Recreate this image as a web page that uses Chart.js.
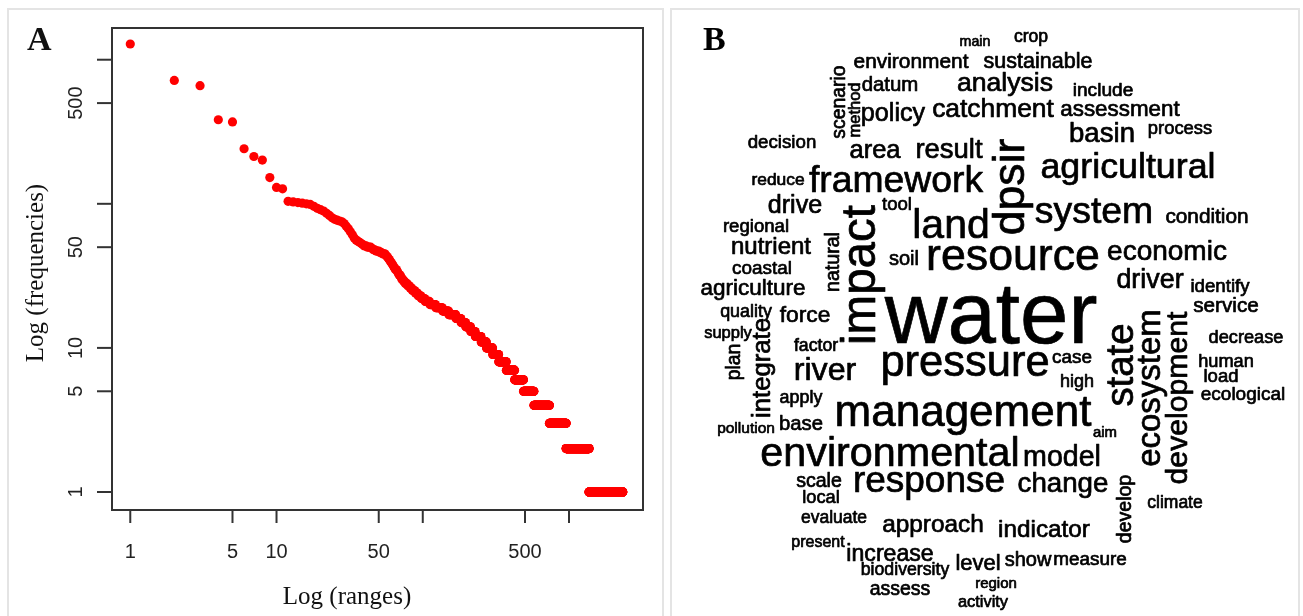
<!DOCTYPE html>
<html>
<head>
<meta charset="utf-8">
<script src="https://cdn.jsdelivr.net/npm/chart.js@4"></script>
<style>
html, body { margin: 0; padding: 0; background: #fff; }
body { width: 1303px; height: 616px; position: relative; overflow: hidden; }
.panel { position: absolute; top: 8px; height: 700px; border: 2px solid #e4e4e4; box-sizing: border-box; }
#panelA { left: 7px; width: 657px; }
#panelB { left: 670px; width: 630px; }
canvas { position: absolute; top: 0; }
#rankChart { left: 0; }
#cloudChart { left: 671px; }
</style>
</head>
<body>
<div class="panel" id="panelA"></div>
<div class="panel" id="panelB"></div>
<canvas id="rankChart" width="665" height="616"></canvas>
<canvas id="cloudChart" width="632" height="616"></canvas>
<script>
// ---- panel A: rank / frequency (log-log) ----
// frequencies of the first 45 ranks, read one by one
var topRankFreqs = [1285, 718, 660, 383, 370, 241, 213, 201, 152, 130,
                    127, 104, 103, 102, 101, 100, 99, 96, 93, 91,
                    89, 86, 83, 80, 78, 77, 76, 75, 73, 70,
                    67, 64, 61, 58, 56, 55, 54, 53, 52, 51,
                    51, 50, 50, 50, 49];
// after that: how many words share each frequency
var tailFreqLevels = [48, 47, 46, 45, 44, 43, 42, 41, 40, 39, 38, 37, 36, 35, 34, 33, 32, 31, 30, 29,
                      28, 27, 26, 25, 24, 23, 22, 21, 20, 19, 18, 17, 16, 15, 14, 13, 12, 11, 10, 9,
                      8, 7, 6, 5, 4, 3, 2, 1];
var tailWordCounts = [2, 3, 2, 3, 1, 1, 1, 1, 1, 1, 1, 1, 1, 2, 1, 1, 2, 1, 2, 2,
                      3, 3, 3, 4, 4, 5, 6, 8, 11, 14, 14, 18, 14, 14, 16, 16, 22, 22, 28, 30,
                      42, 52, 64, 87, 159, 221, 415, 960];

var xTicks = [1, 5, 10, 50, 100, 500, 1000];
var xTickLabels = ["1", "5", "10", "50", "", "500", ""];
var yTicks = [1, 5, 10, 50, 100, 500, 1000];
var yTickLabels = ["1", "5", "10", "50", "", "500", ""];

// ---- panel B: word cloud ----
var words = ['main','crop','environment','sustainable','scenario','method','datum','analysis','include','policy',
  'catchment','assessment','basin','process','decision','area','result','dpsir','agricultural','reduce',
  'framework','drive','tool','land','system','condition','regional','impact','nutrient','natural',
  'soil','resource','economic','coastal','agriculture','driver','identify','quality','force','water',
  'service','supply','integrate','plan','factor','river','pressure','case','high','state',
  'ecosystem','development','decrease','human','load','ecological','apply','pollution','base','management',
  'aim','environmental','model','scale','response','change','local','develop','climate','evaluate',
  'approach','indicator','present','increase','level','show','measure','biodiversity','region','assess',
  'activity'];
var wordFreq = [210, 260, 309, 318, 287, 244, 301, 393, 282, 372,
  390, 331, 408, 272, 276, 377, 406, 659, 529, 257,
  551, 371, 275, 606, 552, 307, 275, 702, 354, 289,
  295, 660, 414, 279, 332, 397, 276, 264, 337, 1285,
  306, 244, 380, 287, 261, 476, 643, 279, 266, 567,
  487, 446, 269, 269, 273, 281, 264, 229, 300, 650,
  220, 610, 422, 289, 546, 409, 270, 288, 258, 258,
  360, 359, 236, 341, 325, 295, 279, 261, 222, 288,
  242];
// where the cloud layout put each word (layout units)
var layoutX = [975, 1031, 911, 1038, 845, 860, 890, 1005, 1103, 893,
  993, 1120, 1102, 1180, 782, 875, 949, 1024, 1128, 778,
  896, 795, 897, 951, 1094, 1207, 756, 875, 771, 839,
  904, 1013, 1167, 762, 753, 1150, 1220, 746, 805, 991,
  1226, 728, 770, 740, 816, 825, 965, 1072, 1077, 1133,
  1160, 1187, 1246, 1226, 1221, 1243, 801, 746, 801, 963,
  1105, 890, 1062, 819, 929, 1063, 821, 1131, 1175, 834,
  933, 1044, 818, 890, 978, 1028, 1090, 905, 996, 900,
  983];
var layoutY = [46, 42, 68, 68, 102, 110, 91, 91, 96, 121,
  117, 116, 142, 134, 148, 158, 158, 187, 178, 185,
  192, 213, 210, 238, 223, 223, 232, 275, 254, 262,
  265, 270, 260, 274, 295, 288, 292, 317, 322, 343,
  312, 338, 368, 362, 351, 380, 376, 363, 387, 365,
  388, 398, 343, 367, 382, 400, 403, 433, 430, 426,
  437, 466, 466, 487, 492, 492, 503, 509, 508, 523,
  532, 537, 547, 561, 570, 566, 565, 575, 588, 595,
  607];
var verticalWords = ['scenario','method','dpsir','impact','natural','integrate','plan','state','ecosystem','development','develop'];

var SANS = '"Liberation Sans", Arial, sans-serif';
var SERIF = '"Liberation Serif", "Times New Roman", serif';

var rankPoints = [];
topRankFreqs.forEach(function (f, i) { rankPoints.push({ x: i + 1, y: f }); });
var rank = topRankFreqs.length;
tailFreqLevels.forEach(function (f, i) {
  for (var k = 0; k < tailWordCounts[i]; k++) {
    rank++;
    rankPoints.push({ x: rank, y: f });
  }
});

// R style box, ticks and labels
var rAxes = {
  id: 'rAxes',
  afterDraw: function (chart) {
    var ctx = chart.ctx, a = chart.chartArea;
    var xs = chart.scales.x, ys = chart.scales.y;
    ctx.save();
    ctx.strokeStyle = '#333';
    ctx.lineWidth = 2;
    ctx.strokeRect(a.left, a.top, a.right - a.left, a.bottom - a.top);
    ctx.fillStyle = '#222';
    ctx.font = '20px ' + SANS;
    ctx.textAlign = 'center';
    ctx.textBaseline = 'alphabetic';
    xTicks.forEach(function (v, i) {
      var px = xs.getPixelForValue(v);
      ctx.beginPath(); ctx.moveTo(px, a.bottom); ctx.lineTo(px, a.bottom + 13); ctx.stroke();
      if (xTickLabels[i]) ctx.fillText(xTickLabels[i], px, a.bottom + 48);
    });
    yTicks.forEach(function (v, i) {
      var py = ys.getPixelForValue(v);
      ctx.beginPath(); ctx.moveTo(a.left, py); ctx.lineTo(a.left - 15, py); ctx.stroke();
      if (yTickLabels[i]) {
        ctx.save();
        ctx.translate(a.left - 30, py);
        ctx.rotate(-Math.PI / 2);
        ctx.fillText(yTickLabels[i], 0, 0);
        ctx.restore();
      }
    });
    ctx.fillStyle = '#111';
    ctx.font = '25px ' + SERIF;
    ctx.fillText('Log (ranges)', 347, 604);
    ctx.save();
    ctx.translate(43, 273);
    ctx.rotate(-Math.PI / 2);
    ctx.fillText('Log (frequencies)', 0, 0);
    ctx.restore();
    ctx.font = 'bold 34px ' + SERIF;
    ctx.textAlign = 'left';
    ctx.fillText('A', 27, 50);
    ctx.restore();
  }
};

new Chart(document.getElementById('rankChart'), {
  type: 'scatter',
  data: {
    datasets: [{
      data: rankPoints,
      backgroundColor: '#ff0000',
      borderWidth: 0,
      pointRadius: 4.6,
      pointHoverRadius: 4.6
    }]
  },
  options: {
    responsive: false,
    animation: false,
    devicePixelRatio: 1,
    events: [],
    layout: { padding: { left: 112, right: 22, top: 28, bottom: 106 } },
    plugins: { legend: { display: false }, tooltip: { enabled: false } },
    scales: {
      x: { type: 'logarithmic', display: false, min: 0.75, max: 3206, bounds: 'data' },
      y: { type: 'logarithmic', display: false, min: 0.75, max: 1660, bounds: 'data' }
    }
  },
  plugins: [rAxes]
});

var maxFreq = Math.max.apply(null, wordFreq);
var cloudText = {
  id: 'cloudText',
  afterDatasetsDraw: function (chart) {
    var ctx = chart.ctx;
    var meta = chart.getDatasetMeta(0);
    ctx.save();
    ctx.fillStyle = '#000';
    ctx.strokeStyle = '#000';
    ctx.lineWidth = 0.7;
    ctx.lineJoin = 'round';
    ctx.textAlign = 'center';
    ctx.textBaseline = 'alphabetic';
    meta.data.forEach(function (pt, i) {
      var size = wordFreq[i] / maxFreq * 87;
      ctx.font = size.toFixed(1) + 'px ' + SANS;
      ctx.save();
      ctx.translate(pt.x, pt.y);
      if (verticalWords.indexOf(words[i]) >= 0) ctx.rotate(-Math.PI / 2);
      ctx.fillText(words[i], 0, 0);
      ctx.strokeText(words[i], 0, 0);
      ctx.restore();
    });
    ctx.font = 'bold 34px ' + SERIF;
    ctx.textAlign = 'left';
    ctx.fillText('B', 32, 50);
    ctx.restore();
  }
};

new Chart(document.getElementById('cloudChart'), {
  type: 'scatter',
  data: {
    datasets: [{
      data: words.map(function (w, i) { return { x: layoutX[i], y: layoutY[i] }; }),
      pointRadius: 0,
      pointHoverRadius: 0
    }]
  },
  options: {
    responsive: false,
    animation: false,
    devicePixelRatio: 1,
    events: [],
    layout: { padding: 0 },
    plugins: { legend: { display: false }, tooltip: { enabled: false } },
    scales: {
      x: { type: 'linear', display: false, min: 671, max: 1303 },
      y: { type: 'linear', display: false, min: 0, max: 616, reverse: true }
    }
  },
  plugins: [cloudText]
});
</script>
</body>
</html>
